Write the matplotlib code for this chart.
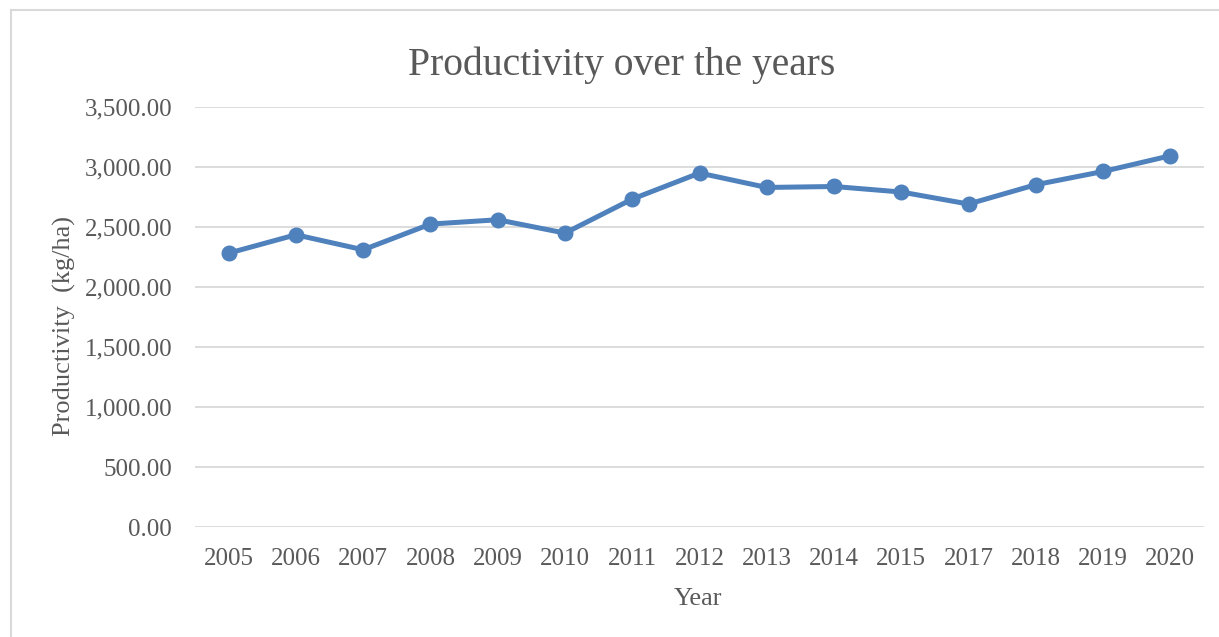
import matplotlib
matplotlib.use("Agg")
import matplotlib.pyplot as plt
from matplotlib.patches import Rectangle
from matplotlib.ticker import FuncFormatter, MultipleLocator

years = ["2005", "2006", "2007", "2008", "2009", "2010", "2011", "2012",
         "2013", "2014", "2015", "2017", "2018", "2019", "2020"]
productivity = [2283, 2436, 2311, 2525, 2561, 2450, 2733, 2950,
                2830, 2838, 2792, 2692, 2853, 2963, 3094]

W, H = 1219, 637
fig = plt.figure(figsize=(W / 100, H / 100), dpi=100)
plt.rcParams['font.family'] = ['Liberation Serif', 'DejaVu Serif']
text_col = "#595959"

# chart border (left/top visible)
fig.patches.append(Rectangle((11 / W, -0.05), 1.2, 1 - 9.5 / H + 0.05,
                             transform=fig.transFigure, fill=False,
                             edgecolor="#D9D9D9", linewidth=1.5))

ax = fig.add_axes([195 / W, 1 - 527.3 / H, (1204 - 195) / W, (527.3 - 107) / H])
x = list(range(len(years)))
ax.plot(x, productivity, color="#4F81BD", linewidth=3.6, marker="o",
        markersize=10.5, solid_capstyle="round", solid_joinstyle="round")
ax.set_xlim(-0.5, len(years) - 0.5)
ax.set_ylim(0, 3500)
ax.yaxis.set_major_locator(MultipleLocator(500))
ax.yaxis.set_major_formatter(FuncFormatter(lambda v, p: f"{v:,.2f}"))
ax.set_xticks(x)
ax.set_xticklabels(years)
ax.grid(axis="y", color="#D9D9D9", linewidth=1.3)
ax.set_axisbelow(True)
for s in ax.spines.values():
    s.set_visible(False)
ax.tick_params(length=0, labelsize=18, labelcolor=text_col)
ax.tick_params(axis="y", pad=16.5)
ax.tick_params(axis="x", pad=15)

fig.text(698 / W, 1 - 605 / H, "Year", ha="center", va="baseline",
         fontsize=19, color=text_col)
fig.text(64 / W, 1 - 326 / H, "Productivity  (kg/ha)", ha="center",
         va="center", rotation=90, fontsize=19, color=text_col)
fig.text(622 / W, 1 - 75 / H, "Productivity over the years", ha="center",
         va="baseline", fontsize=28.5, color=text_col)

fig.savefig("out.png", dpi=100)
